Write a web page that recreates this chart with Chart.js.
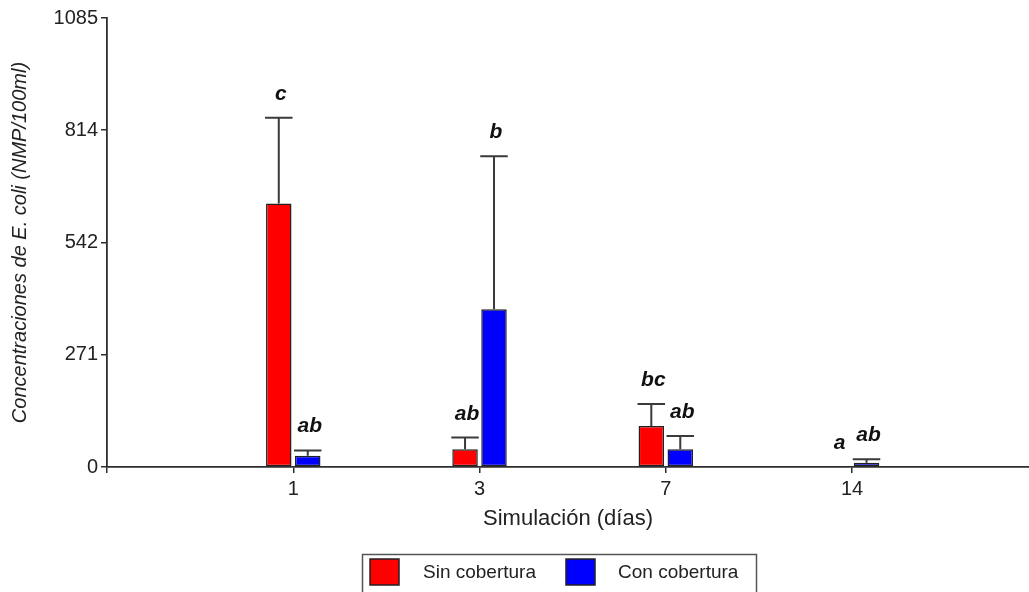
<!DOCTYPE html>
<html>
<head>
<meta charset="utf-8">
<script src="https://cdn.jsdelivr.net/npm/chart.js@4.4.1/dist/chart.umd.min.js"></script>
<style>
  html, body { margin: 0; padding: 0; background: #fff; overflow: hidden; }
  #wrap { width: 1029px; height: 592px; position: relative; }
</style>
</head>
<body>
<div id="wrap"><canvas id="c" width="1029" height="592"></canvas></div>
<script>
// Sampling days (x categories)
const days = ['1', '3', '7', '14'];
// Mean E. coli concentration (NMP/100ml) and upper error, per treatment
const sinCobertura = [637, 43, 99, 0];
const sinCoberturaErr = [207, 28, 53, 0];
const conCobertura = [27, 381, 43, 10];
const conCoberturaErr = [13, 370, 32, 9];
// Significance letters per bar
const sinLetters = ['c', 'ab', 'bc', 'a'];
const conLetters = ['ab', 'b', 'ab', 'ab'];
// Y axis tick values
const yTicks = [0, 271, 542, 814, 1085];

const FONT = '"Liberation Sans", Arial, sans-serif';
const AXIS = '#2e2e2e';

const toPoints = arr => arr.map((v, i) => ({ x: i + 1, y: v }));

// Error bars and letters drawn above each bar
const errorBars = {
  id: 'errorBars',
  afterDatasetsDraw(chart) {
    const ctx = chart.ctx;
    const yScale = chart.scales.y;
    chart.data.datasets.forEach((ds, di) => {
      const meta = chart.getDatasetMeta(di);
      meta.data.forEach((el, j) => {
        const val = ds.data[j].y;
        const err = ds.errors[j];
        const yTop = yScale.getPixelForValue(val + err);
        ctx.save();
        if (err > 0) {
          ctx.strokeStyle = '#3a3a3a';
          ctx.lineWidth = 2;
          const half = el.width / 2 + 1;
          ctx.beginPath();
          ctx.moveTo(el.x, el.y);
          ctx.lineTo(el.x, yTop);
          ctx.moveTo(el.x - half, yTop);
          ctx.lineTo(el.x + half, yTop);
          ctx.stroke();
        }
        ctx.fillStyle = '#111';
        ctx.font = 'italic bold 21px ' + FONT;
        ctx.textAlign = 'center';
        ctx.textBaseline = 'alphabetic';
        ctx.fillText(ds.letters[j], el.x + 2, yTop - 18);
        ctx.restore();
      });
    });
  }
};

// Boxed legend under the axis title
const boxLegend = {
  id: 'boxLegend',
  afterDraw(chart) {
    const ctx = chart.ctx;
    const ds = chart.data.datasets;
    ctx.save();
    ctx.strokeStyle = '#555';
    ctx.lineWidth = 1.5;
    ctx.strokeRect(362.5, 554.5, 394, 50);
    const items = [
      { sx: 370, tx: 423 },
      { sx: 566, tx: 618 }
    ];
    items.forEach((it, i) => {
      ctx.fillStyle = ds[i].backgroundColor;
      ctx.fillRect(it.sx, 559, 29, 26);
      ctx.strokeStyle = '#222';
      ctx.lineWidth = 1.5;
      ctx.strokeRect(it.sx, 559, 29, 26);
      ctx.fillStyle = '#222';
      ctx.font = '19px ' + FONT;
      ctx.textAlign = 'left';
      ctx.textBaseline = 'middle';
      ctx.fillText(ds[i].label, it.tx, 573);
    });
    ctx.restore();
  }
};

new Chart(document.getElementById('c'), {
  type: 'bar',
  data: {
    datasets: [
      {
        label: 'Sin cobertura',
        data: toPoints(sinCobertura),
        errors: sinCoberturaErr,
        letters: sinLetters,
        backgroundColor: '#ff0000',
        borderColor: '#222',
        borderWidth: 1.5,
        borderSkipped: false
      },
      {
        label: 'Con cobertura',
        data: toPoints(conCobertura),
        errors: conCoberturaErr,
        letters: conLetters,
        backgroundColor: '#0000ff',
        borderColor: '#222',
        borderWidth: 1.5,
        borderSkipped: false
      }
    ]
  },
  options: {
    responsive: false,
    animation: false,
    devicePixelRatio: 1,
    categoryPercentage: 0.311,
    barPercentage: 0.88,
    layout: { padding: { top: 18, right: 0, bottom: 0, left: 0 } },
    plugins: {
      legend: { display: false },
      tooltip: { enabled: false }
    },
    scales: {
      x: {
        type: 'linear',
        offset: false,
        min: 0,
        max: 4.95,
        afterBuildTicks: s => { s.ticks = [0, 1, 2, 3, 4].map(v => ({ value: v })); },
        afterFit: s => { s.height = 125; },
        ticks: {
          callback: v => (v === 0 ? '' : days[v - 1]),
          color: '#222',
          font: { family: FONT, size: 20 },
          padding: 4,
          maxRotation: 0
        },
        grid: { display: true, offset: false, drawOnChartArea: false, tickLength: 6, color: AXIS, tickColor: AXIS, lineWidth: 1.5 },
        border: { display: true, color: AXIS, width: 1.8 },
        title: {
          display: true,
          text: 'Simulación (días)',
          color: '#222',
          font: { family: FONT, size: 22 },
          padding: { top: 0, bottom: 60 }
        }
      },
      y: {
        min: 0,
        max: 1085,
        afterBuildTicks: s => { s.ticks = yTicks.map(v => ({ value: v })); },
        afterFit: s => { s.width = 107; },
        ticks: {
          callback: v => String(v),
          color: '#222',
          font: { family: FONT, size: 20 },
          padding: 3
        },
        grid: { display: true, drawOnChartArea: false, tickLength: 6, color: AXIS, tickColor: AXIS, lineWidth: 1.5 },
        border: { display: true, color: AXIS, width: 1.8 },
        title: {
          display: true,
          text: 'Concentraciones de E. coli (NMP/100ml)',
          color: '#222',
          font: { family: FONT, size: 20, style: 'italic' },
          padding: { top: 8, bottom: 0 }
        }
      }
    }
  },
  plugins: [errorBars, boxLegend]
});
</script>
</body>
</html>
